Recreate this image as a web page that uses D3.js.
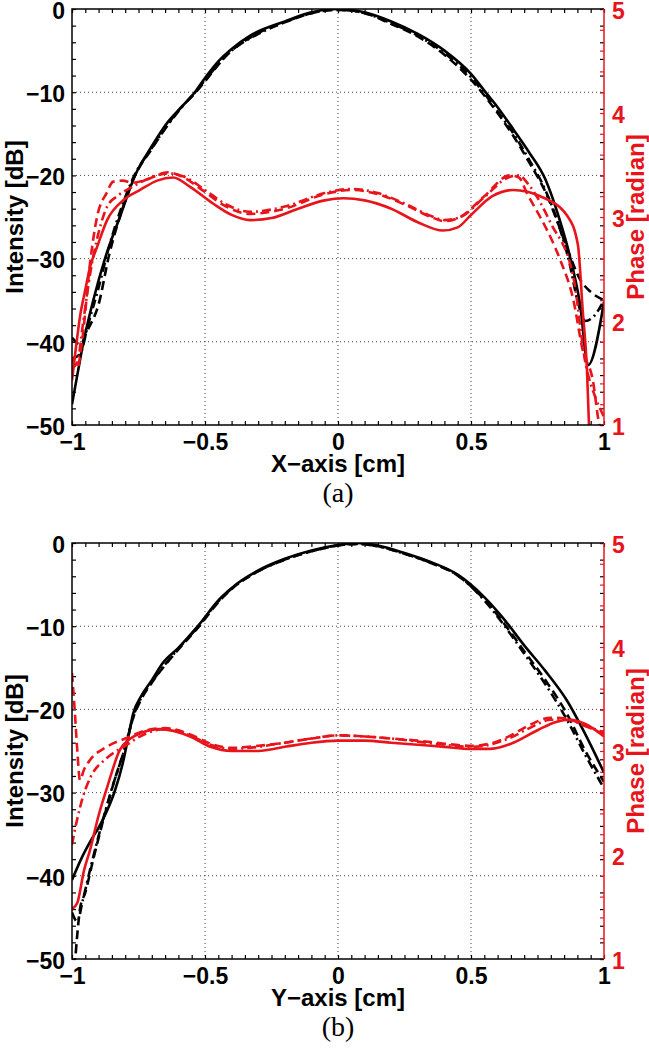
<!DOCTYPE html>
<html>
<head>
<meta charset="utf-8">
<script src="https://cdn.jsdelivr.net/npm/d3@7"></script>
<style>
  body { margin: 0; background: #fff; }
  svg { display: block; }
  text { font-family: "Liberation Sans", Arial, sans-serif; font-weight: bold; }
</style>
</head>
<body>
<svg id="chart" width="649" height="1050"></svg>
<script>
// ---- data: [x in cm, value] ----
// panel (a), intensity in dB
const aIntSolid = [[-1,-47.5],[-0.98,-44],[-0.96,-40.5],[-0.92,-35],[-0.876,-30],[-0.82,-25],[-0.763,-20],[-0.7,-16.5],[-0.64,-13.6],[-0.58,-11.5],[-0.538,-10],[-0.5,-8.3],[-0.45,-6.3],[-0.4,-4.8],[-0.33,-3.2],[-0.2,-1.5],[-0.1,-0.4],[0,0],[0.1,-0.4],[0.2,-1.5],[0.3,-3.0],[0.4,-5.0],[0.5,-7.8],[0.55,-9.8],[0.6,-11.8],[0.66,-14.5],[0.72,-17.3],[0.78,-20.5],[0.83,-25],[0.87,-29.5],[0.91,-35.5],[0.94,-42.8],[1.0,-35.2]];
const aIntDash = [[-1,-39.5],[-0.97,-40.3],[-0.94,-38.5],[-0.9,-35.5],[-0.86,-29.5],[-0.81,-24],[-0.77,-20.5],[-0.7,-16.8],[-0.6,-12.2],[-0.54,-10.2],[-0.4,-5],[-0.3,-2.9],[-0.2,-1.6],[-0.1,-0.5],[0,-0.1],[0.1,-0.5],[0.2,-1.8],[0.3,-3.3],[0.4,-5.5],[0.5,-8.5],[0.6,-12.5],[0.66,-15.3],[0.72,-18.5],[0.78,-22],[0.83,-26],[0.87,-29.5],[0.91,-32.5],[0.95,-34],[1.0,-35]];
const aIntDashDot = [[-1,-42],[-0.97,-41.5],[-0.94,-38],[-0.9,-33.5],[-0.86,-28.5],[-0.81,-23.5],[-0.77,-20.3],[-0.7,-16.7],[-0.6,-12.3],[-0.54,-10.1],[-0.4,-5],[-0.3,-3],[-0.2,-1.6],[-0.1,-0.5],[0,-0.1],[0.1,-0.5],[0.2,-1.7],[0.3,-3.2],[0.4,-5.3],[0.5,-8.2],[0.6,-12.3],[0.66,-15],[0.72,-18.2],[0.78,-21.8],[0.83,-26],[0.87,-30.5],[0.9,-35],[0.93,-37.5],[0.96,-37],[1.0,-35]];
// panel (a), phase in radian
const aPhSolid = [[-1,1.43],[-0.985,1.75],[-0.97,2.04],[-0.95,2.3],[-0.932,2.52],[-0.906,2.71],[-0.868,2.97],[-0.808,3.16],[-0.744,3.26],[-0.68,3.35],[-0.62,3.38],[-0.556,3.29],[-0.47,3.13],[-0.4,3.02],[-0.33,2.97],[-0.25,2.99],[-0.15,3.08],[-0.05,3.16],[0.02,3.18],[0.1,3.16],[0.2,3.08],[0.3,2.95],[0.395,2.87],[0.45,2.9],[0.5,3.02],[0.58,3.2],[0.658,3.26],[0.76,3.2],[0.865,3.0],[0.902,2.73],[0.92,2.1],[0.936,1.53],[0.945,0.9]];
const aPhDash = [[-1,1.65],[-0.98,1.55],[-0.96,1.85],[-0.932,2.56],[-0.906,3.0],[-0.87,3.23],[-0.845,3.34],[-0.81,3.35],[-0.77,3.33],[-0.72,3.36],[-0.64,3.43],[-0.58,3.38],[-0.5,3.24],[-0.42,3.1],[-0.33,3.03],[-0.2,3.08],[-0.05,3.22],[0.05,3.26],[0.15,3.22],[0.25,3.12],[0.35,3.0],[0.4,2.96],[0.46,3.0],[0.55,3.2],[0.647,3.4],[0.68,3.38],[0.71,3.23],[0.76,3.0],[0.8,2.8],[0.835,2.59],[0.885,2.2],[0.92,1.72],[0.96,1.4],[0.977,1.08],[0.99,0.9]];
const aPhDashDot = [[-1,1.55],[-0.98,1.6],[-0.96,1.95],[-0.932,2.45],[-0.9,2.85],[-0.868,3.1],[-0.83,3.2],[-0.78,3.28],[-0.72,3.36],[-0.64,3.42],[-0.58,3.39],[-0.5,3.26],[-0.42,3.12],[-0.33,3.05],[-0.2,3.1],[-0.05,3.23],[0.05,3.27],[0.15,3.23],[0.25,3.13],[0.35,3.01],[0.4,2.97],[0.46,3.0],[0.55,3.19],[0.64,3.38],[0.68,3.4],[0.72,3.3],[0.8,2.94],[0.885,2.42],[0.93,1.6],[0.97,1.25],[1.0,1.08]];

// panel (b), intensity in dB
const bIntSolid = [[-1,-40.5],[-0.96,-37.6],[-0.93,-35.8],[-0.9,-34.2],[-0.87,-32.3],[-0.84,-29.9],[-0.81,-26.6],[-0.79,-23.6],[-0.77,-20.5],[-0.74,-18.4],[-0.7,-16.5],[-0.658,-14.4],[-0.6,-12.6],[-0.527,-10],[-0.444,-6.7],[-0.38,-4.9],[-0.3,-3.3],[-0.2,-1.9],[-0.1,-0.9],[0,-0.25],[0.07,0],[0.15,-0.3],[0.25,-1.2],[0.35,-2.3],[0.45,-3.8],[0.55,-6.5],[0.62,-9],[0.7,-12.3],[0.78,-15.4],[0.86,-18.9],[0.93,-23],[1.0,-27.6]];
const bIntDash = [[-0.99,-51],[-0.98,-47],[-0.97,-44],[-0.95,-42],[-0.92,-38],[-0.88,-33],[-0.84,-28.5],[-0.8,-24.5],[-0.77,-21],[-0.74,-18.8],[-0.7,-16.8],[-0.6,-12.8],[-0.527,-10.2],[-0.444,-6.9],[-0.38,-5],[-0.3,-3.4],[-0.2,-2],[-0.1,-1],[0,-0.3],[0.07,-0.1],[0.15,-0.4],[0.25,-1.3],[0.35,-2.4],[0.45,-3.9],[0.55,-6.8],[0.62,-9.5],[0.7,-13],[0.78,-16.5],[0.86,-20.5],[0.93,-25],[1.0,-28.7]];
const bIntDashDot = [[-1,-44.4],[-0.98,-45.5],[-0.96,-43],[-0.93,-39],[-0.89,-34],[-0.85,-29.5],[-0.8,-24.5],[-0.77,-20.9],[-0.74,-18.6],[-0.7,-16.7],[-0.6,-12.7],[-0.527,-10.1],[-0.444,-6.8],[-0.38,-5],[-0.3,-3.4],[-0.2,-2],[-0.1,-1],[0,-0.3],[0.07,-0.1],[0.15,-0.4],[0.25,-1.3],[0.35,-2.4],[0.45,-3.9],[0.55,-6.9],[0.62,-9.7],[0.7,-13.3],[0.78,-17],[0.86,-21.2],[0.93,-25.5],[1.0,-29.5]];
// panel (b), phase in radian
const bPhSolid = [[-1,1.48],[-0.98,1.54],[-0.955,1.85],[-0.932,2.05],[-0.9,2.38],[-0.868,2.65],[-0.82,3.01],[-0.78,3.12],[-0.744,3.17],[-0.67,3.21],[-0.556,3.14],[-0.48,3.04],[-0.4,3.0],[-0.3,3.0],[-0.2,3.04],[-0.1,3.08],[0,3.1],[0.1,3.1],[0.2,3.08],[0.3,3.06],[0.4,3.04],[0.5,3.02],[0.57,3.02],[0.65,3.07],[0.75,3.2],[0.82,3.28],[0.87,3.3],[0.93,3.26],[1.0,3.14]];
const bPhDash = [[-1,3.75],[-0.99,3.4],[-0.98,3.0],[-0.97,2.72],[-0.955,2.82],[-0.93,2.92],[-0.87,3.04],[-0.8,3.12],[-0.72,3.2],[-0.65,3.22],[-0.556,3.16],[-0.48,3.07],[-0.4,3.03],[-0.3,3.05],[-0.2,3.08],[-0.1,3.12],[0,3.15],[0.1,3.14],[0.2,3.12],[0.3,3.1],[0.4,3.07],[0.5,3.05],[0.57,3.07],[0.65,3.15],[0.72,3.25],[0.8,3.32],[0.86,3.31],[0.93,3.24],[1.0,3.16]];
const bPhDashDot = [[-1,2.1],[-0.98,2.35],[-0.96,2.55],[-0.93,2.75],[-0.87,2.93],[-0.8,3.05],[-0.72,3.17],[-0.65,3.21],[-0.556,3.15],[-0.48,3.06],[-0.4,3.02],[-0.3,3.04],[-0.2,3.08],[-0.1,3.12],[0,3.15],[0.1,3.14],[0.2,3.12],[0.3,3.09],[0.4,3.06],[0.5,3.04],[0.57,3.06],[0.65,3.13],[0.72,3.22],[0.8,3.3],[0.86,3.3],[0.93,3.24],[1.0,3.18]];

const xMajor = [-1, -0.5, 0, 0.5, 1];
const intMajor = [0, -10, -20, -30, -40, -50];
const phMajor = [1, 2, 3, 4, 5];

const svg = d3.select("#chart");
const left = 72, right = 604, plotH = 416;
const red = "#e8141c";
const x = d3.scaleLinear().domain([-1, 1]).range([left, right]);
const minus = d => d < 0 ? "\u2212" + Math.abs(d) : String(d);
const dashes = { solid: null, dash: "9,5", dashdot: "9,4,2,4" };

function drawPanel(top, id, xTitle, tag, intLines, phLines) {
  const bottom = top + plotH;
  const yI = d3.scaleLinear().domain([-50, 0]).range([bottom, top]);
  const yP = d3.scaleLinear().domain([1, 5]).range([bottom, top]);
  const g = svg.append("g");

  svg.append("clipPath").attr("id", id)
    .append("rect").attr("x", left).attr("y", top).attr("width", right - left).attr("height", plotH);

  // dotted grid
  g.selectAll(".gx").data(xMajor.slice(1, -1)).join("line")
    .attr("x1", d => x(d)).attr("x2", d => x(d)).attr("y1", top).attr("y2", bottom)
    .attr("stroke", "#444").attr("stroke-dasharray", "1,3");
  g.selectAll(".gy").data(intMajor.slice(1, -1)).join("line")
    .attr("x1", left).attr("x2", right).attr("y1", d => yI(d)).attr("y2", d => yI(d))
    .attr("stroke", "#444").attr("stroke-dasharray", "1,3");

  // minor ticks, all pointing inward
  const xt = d3.range(-1, 1.0001, 0.05);
  g.append("g").attr("transform", `translate(0,${bottom})`)
    .call(d3.axisBottom(x).tickValues(xt).tickSize(-4).tickFormat(""));
  g.append("g").attr("transform", `translate(0,${top})`)
    .call(d3.axisTop(x).tickValues(xt).tickSize(-4).tickFormat(""));
  const yt = d3.range(-50, 0.001, 2);
  g.append("g").attr("transform", `translate(${left},0)`)
    .call(d3.axisLeft(yI).tickValues(yt).tickSize(-4).tickFormat(""));
  g.append("g").attr("transform", `translate(${right},0)`)
    .call(d3.axisRight(yI).tickValues(yt).tickSize(-4).tickFormat(""));
  g.append("g").attr("class", "red").attr("transform", `translate(${right},0)`)
    .call(d3.axisRight(yP).tickValues(d3.range(1, 5.001, 0.2)).tickSize(-4).tickFormat(""));
  g.selectAll(".domain").remove();
  g.selectAll(".tick line").attr("stroke-width", 1.2);
  g.selectAll(".red .tick line").attr("stroke", red);

  // lines
  const lineI = d3.line().x(d => x(d[0])).y(d => yI(d[1])).curve(d3.curveMonotoneX);
  const lineP = d3.line().x(d => x(d[0])).y(d => yP(d[1])).curve(d3.curveMonotoneX);
  const lg = g.append("g").attr("clip-path", `url(#${id})`).attr("fill", "none")
    .attr("stroke-width", 2.6).attr("stroke-linejoin", "round");
  intLines.forEach(s => lg.append("path").attr("d", lineI(s.data))
    .attr("stroke", "#000").attr("stroke-dasharray", dashes[s.style]));
  phLines.forEach(s => lg.append("path").attr("d", lineP(s.data))
    .attr("stroke", red).attr("stroke-dasharray", dashes[s.style]));

  // box
  g.append("path").attr("d", `M${right},${top}H${left}V${bottom}H${right}`)
    .attr("fill", "none").attr("stroke", "#000").attr("stroke-width", 1.5);
  g.append("line").attr("x1", right).attr("x2", right).attr("y1", top).attr("y2", bottom)
    .attr("stroke", red).attr("stroke-width", 1.5);

  // tick labels
  const bx = g.append("g").attr("transform", `translate(0,${bottom})`)
    .call(d3.axisBottom(x).tickValues(xMajor).tickSize(0).tickPadding(9).tickFormat(minus));
  const ly = g.append("g").attr("transform", `translate(${left},0)`)
    .call(d3.axisLeft(yI).tickValues(intMajor).tickSize(0).tickPadding(7).tickFormat(minus));
  const ry = g.append("g").attr("transform", `translate(${right},0)`)
    .call(d3.axisRight(yP).tickValues(phMajor).tickSize(0).tickPadding(8).tickFormat(d3.format("d")));
  [bx, ly, ry].forEach(a => {
    a.attr("font-size", 23).attr("font-family", null);
    a.select(".domain").remove();
    a.selectAll("text").attr("fill", "#000");
  });
  ly.selectAll("text").attr("dy", "0.4em");
  ry.selectAll("text").attr("dy", "0.4em").attr("fill", red);

  // axis titles
  g.append("text").attr("x", (left + right) / 2).attr("y", bottom + 47)
    .attr("text-anchor", "middle").attr("font-size", 24).text(xTitle);
  g.append("text").attr("transform", `translate(23,${(top + bottom) / 2}) rotate(-90)`)
    .attr("text-anchor", "middle").attr("font-size", 24).text("Intensity [dB]");
  g.append("text").attr("transform", `translate(644,${(top + bottom) / 2}) rotate(-90)`)
    .attr("text-anchor", "middle").attr("font-size", 24).attr("fill", red).text("Phase [radian]");
  g.append("text").attr("x", (left + right) / 2).attr("y", bottom + 77)
    .attr("text-anchor", "middle").attr("font-size", 28)
    .style("font-family", "'Liberation Serif', 'Times New Roman', serif").style("font-weight", "normal")
    .text(tag);
}

drawPanel(9, "clipA", "X\u2212axis [cm]", "(a)",
  [{ data: aIntSolid, style: "solid" }, { data: aIntDash, style: "dash" }, { data: aIntDashDot, style: "dashdot" }],
  [{ data: aPhSolid, style: "solid" }, { data: aPhDash, style: "dash" }, { data: aPhDashDot, style: "dashdot" }]);
drawPanel(543, "clipB", "Y\u2212axis [cm]", "(b)",
  [{ data: bIntSolid, style: "solid" }, { data: bIntDash, style: "dash" }, { data: bIntDashDot, style: "dashdot" }],
  [{ data: bPhSolid, style: "solid" }, { data: bPhDash, style: "dash" }, { data: bPhDashDot, style: "dashdot" }]);
</script>
</body>
</html>
